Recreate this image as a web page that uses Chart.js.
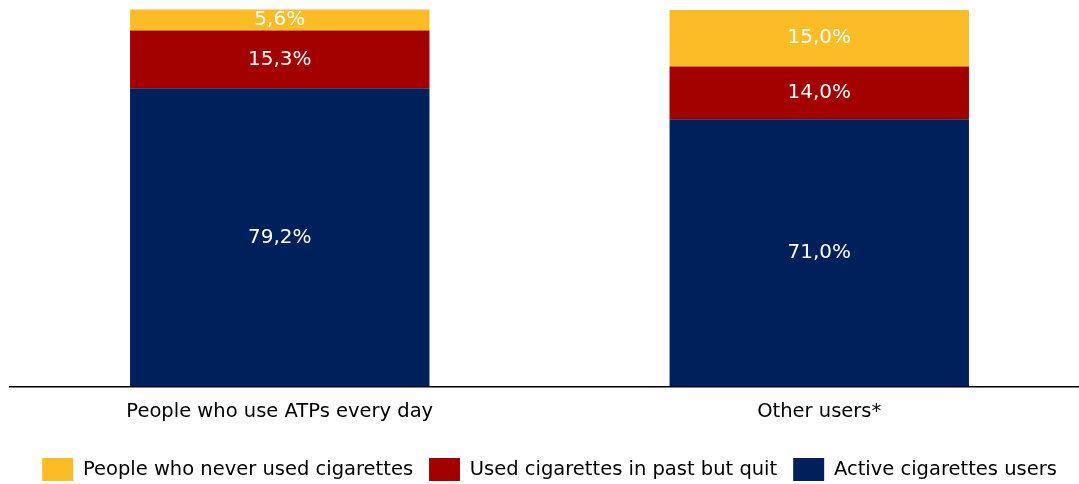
<!DOCTYPE html>
<html>
<head>
<meta charset="utf-8">
<script src="https://cdn.jsdelivr.net/npm/chart.js@4"></script>
<style>
  html, body { margin: 0; padding: 0; background: #fff; overflow: hidden; }
  #wrap { width: 1089px; height: 484px; }
</style>
</head>
<body>
<div id="wrap"><canvas id="chart"></canvas></div>
<script>
const categories = ["People who use ATPs every day", "Other users*"];
const activeUsers = [79.2, 71.0];
const pastQuit = [15.3, 14.0];
const neverUsed = [5.6, 15.0];

const FONT = "'DejaVu Sans', sans-serif";

// white value labels in the middle of each segment
const segmentLabels = {
  id: "segmentLabels",
  afterDatasetsDraw(chart) {
    const ctx = chart.ctx;
    ctx.save();
    ctx.fillStyle = "#fff";
    ctx.font = "20px " + FONT;
    ctx.textAlign = "center";
    ctx.textBaseline = "middle";
    chart.data.datasets.forEach((ds, i) => {
      chart.getDatasetMeta(i).data.forEach((bar, j) => {
        const p = bar.getCenterPoint();
        ctx.fillText(ds.data[j].toFixed(1).replace(".", ",") + "%", p.x, p.y);
      });
    });
    ctx.restore();
  }
};

new Chart(document.getElementById("chart"), {
  type: "bar",
  data: {
    labels: categories,
    datasets: [
      { label: "Active cigarettes users", data: activeUsers, backgroundColor: "#00205B" },
      { label: "Used cigarettes in past but quit", data: pastQuit, backgroundColor: "#A30000" },
      { label: "People who never used cigarettes", data: neverUsed, backgroundColor: "#FBBC26" }
    ]
  },
  options: {
    responsive: true,
    maintainAspectRatio: false,
    animation: false,
    layout: { padding: { left: 10, right: 0, top: 8, bottom: -7 } },
    datasets: { bar: { categoryPercentage: 1, barPercentage: 0.555 } },
    scales: {
      x: {
        stacked: true,
        grid: { display: false, drawTicks: false },
        border: { display: true, color: "#000", width: 1.5 },
        ticks: { color: "#000", font: { family: FONT, size: 19.5 }, padding: 14 },
        afterFit(scale) { scale.height += 4; }
      },
      y: {
        stacked: true,
        display: false,
        min: 0,
        max: 100.5
      }
    },
    plugins: {
      legend: {
        position: "bottom",
        reverse: true,
        labels: {
          boxWidth: 31,
          boxHeight: 23,
          padding: 16,
          color: "#000",
          font: { family: FONT, size: 19.5 }
        }
      },
      tooltip: { enabled: false }
    }
  },
  plugins: [segmentLabels]
});
</script>
</body>
</html>
